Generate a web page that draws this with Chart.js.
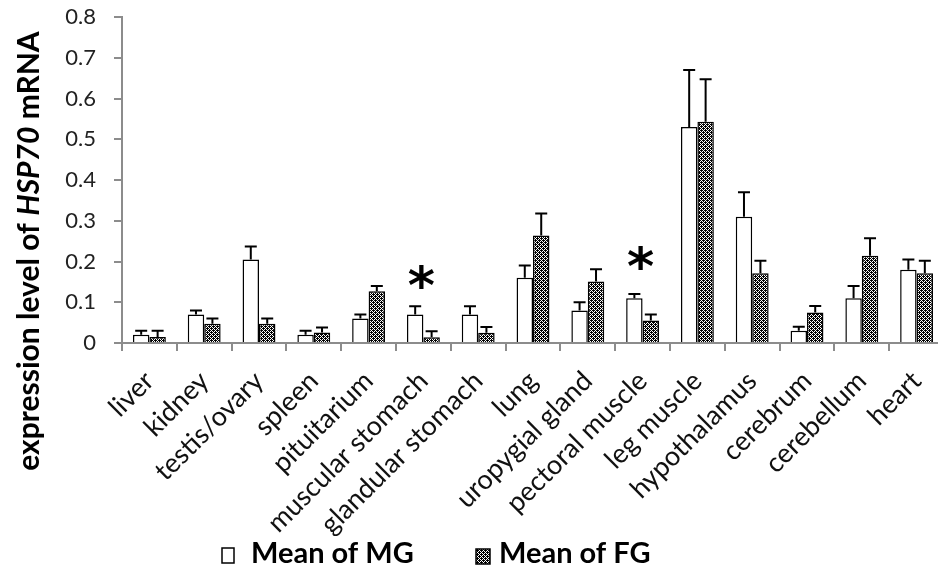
<!DOCTYPE html>
<html>
<head>
<meta charset="utf-8">
<script src="https://cdn.jsdelivr.net/npm/chart.js@4/dist/chart.umd.min.js"></script>
<style>
  html, body { margin: 0; padding: 0; background: #fff; overflow: hidden; }
  #wrap { width: 946px; height: 570px; position: relative; }
</style>
</head>
<body>
<div id="wrap"><canvas id="myChart"></canvas></div>
<script>
// tissues on the x axis
const categories = ['liver', 'kidney', 'testis/ovary', 'spleen', 'pituitarium', 'muscular stomach',
    'glandular stomach', 'lung', 'uropygial gland', 'pectoral muscle', 'leg muscle', 'hypothalamus',
    'cerebrum', 'cerebellum', 'heart'];

const seriesNames = ['Mean of MG', 'Mean of FG'];

// means and error (SD)
const mgMeans  = [0.02, 0.07, 0.205, 0.02, 0.06, 0.07, 0.07, 0.16, 0.08, 0.11, 0.53, 0.31, 0.03, 0.11, 0.18];
const mgErrors = [0.01, 0.01, 0.032, 0.01, 0.01, 0.02, 0.02, 0.03, 0.02, 0.01, 0.14, 0.06, 0.01, 0.03, 0.025];
const fgMeans  = [0.015, 0.047, 0.047, 0.026, 0.127, 0.014, 0.025, 0.264, 0.151, 0.055, 0.543, 0.171, 0.075, 0.214, 0.171];
const fgErrors = [0.015, 0.013, 0.013, 0.012, 0.013, 0.015, 0.014, 0.054, 0.03, 0.015, 0.104, 0.031, 0.016, 0.043, 0.031];

const yTickLabels = ['0', '0.1', '0.2', '0.3', '0.4', '0.5', '0.6', '0.7', '0.8'];

// significance marks
const starCategories = ['muscular stomach', 'pectoral muscle'];
const starValues = [0.162, 0.211];

function makePattern() {
    const c = document.createElement('canvas');
    c.width = 4; c.height = 4;
    const g = c.getContext('2d');
    g.fillStyle = '#000';
    g.fillRect(0, 0, 4, 4);
    g.fillStyle = '#fff';
    for (let x = 0; x < 4; x++) {
        for (let y = 0; y < 4; y++) {
            if ((x + y) % 4 === 1 || (x - y + 4) % 4 === 1) g.fillRect(x, y, 1, 1);
        }
    }
    return document.getElementById('myChart').getContext('2d').createPattern(c, 'repeat');
}
const fgPattern = makePattern();

const errorBars = {
    id: 'errorBars',
    afterDatasetsDraw(chart) {
        const ctx = chart.ctx;
        const y = chart.scales.y;
        const errs = [mgErrors, fgErrors];
        const means = [mgMeans, fgMeans];
        ctx.save();
        ctx.strokeStyle = '#000';
        ctx.lineWidth = 2;
        chart.data.datasets.forEach((ds, di) => {
            const meta = chart.getDatasetMeta(di);
            meta.data.forEach((bar, i) => {
                const top = y.getPixelForValue(means[di][i]);
                const hi = y.getPixelForValue(means[di][i] + errs[di][i]);
                ctx.beginPath();
                ctx.moveTo(bar.x, top);
                ctx.lineTo(bar.x, hi);
                ctx.moveTo(bar.x - 6, hi);
                ctx.lineTo(bar.x + 6, hi);
                ctx.stroke();
            });
        });
        // asterisks, glyph centred on the value
        ctx.fillStyle = '#000';
        ctx.font = 'bold 52px "DejaVu Sans"';
        ctx.textAlign = 'center';
        ctx.textBaseline = 'alphabetic';
        const m = ctx.measureText('*');
        const shift = (m.actualBoundingBoxAscent - m.actualBoundingBoxDescent) / 2;
        starCategories.forEach((c, k) => {
            const idx = categories.indexOf(c);
            const px = chart.scales.x.getPixelForValue(idx);
            ctx.fillText('*', px - 2, y.getPixelForValue(starValues[k]) + shift);
        });
        ctx.restore();
    },
    afterDraw(chart) {
        const ctx = chart.ctx;
        ctx.save();
        // y axis title with italic gene name
        const parts = [['expression level of ', 'bold 30px Lato'], ['HSP70', 'italic bold 30px Lato'], [' mRNA', 'bold 30px Lato']];
        let total = 0;
        parts.forEach(p => { ctx.font = p[1]; total += ctx.measureText(p[0]).width; });
        ctx.translate(29, 251);
        ctx.rotate(-Math.PI / 2);
        ctx.fillStyle = '#000';
        ctx.textBaseline = 'middle';
        ctx.textAlign = 'left';
        let x = -total / 2;
        parts.forEach(p => { ctx.font = p[1]; ctx.fillText(p[0], x, 0); x += ctx.measureText(p[0]).width; });
        ctx.restore();

        // legend
        ctx.save();
        ctx.font = 'bold 29px Lato';
        ctx.textBaseline = 'middle';
        ctx.fillStyle = '#fff';
        ctx.strokeStyle = '#000';
        ctx.lineWidth = 1.5;
        ctx.fillRect(222, 548, 12, 15);
        ctx.strokeRect(222, 548, 12, 15);
        ctx.fillStyle = fgPattern;
        ctx.fillRect(476, 549, 14, 15);
        ctx.strokeRect(476, 549, 14, 15);
        ctx.fillStyle = '#000';
        ctx.fillText(seriesNames[0], 251, 554);
        ctx.fillText(seriesNames[1], 499, 554);
        ctx.restore();
    }
};

new Chart('myChart', {
    type: 'bar',
    data: {
        labels: categories,
        datasets: [{
            label: seriesNames[0],
            data: mgMeans,
            backgroundColor: '#fff',
            borderColor: '#000',
            borderWidth: 1.5
        }, {
            label: seriesNames[1],
            data: fgMeans,
            backgroundColor: fgPattern,
            borderColor: '#000',
            borderWidth: 1.5
        }]
    },
    options: {
        responsive: true,
        maintainAspectRatio: false,
        animation: false,
        categoryPercentage: 0.6,
        barPercentage: 1.0,
        layout: { padding: { top: 17, left: 0, right: 2, bottom: 34 } },
        plugins: {
            legend: { display: false },
            tooltip: { enabled: false }
        },
        scales: {
            x: {
                afterFit(scale) {
                    scale.height = 193;
                    scale.paddingLeft = 0;
                    scale.paddingRight = 0;
                },
                grid: { offset: true, drawOnChartArea: false, color: '#8c8c8c', lineWidth: 2, tickLength: 8 },
                border: { color: '#8c8c8c', width: 2 },
                ticks: {
                    color: '#111',
                    font: { family: 'Lato', size: 27 },
                    minRotation: 45, maxRotation: 45,
                    autoSkip: false,
                    padding: 14
                }
            },
            y: {
                min: 0, max: 0.8,
                afterFit(scale) {
                    scale.width = 122;
                    scale.paddingTop = 0;
                    scale.paddingBottom = 0;
                },
                grid: { drawOnChartArea: false, color: '#8c8c8c', lineWidth: 2, tickLength: 8 },
                border: { color: '#8c8c8c', width: 2 },
                ticks: {
                    stepSize: 0.1,
                    color: '#222',
                    font: { family: 'Lato', size: 22 },
                    padding: 18,
                    callback: (v, i) => yTickLabels[i]
                }
            }
        }
    },
    plugins: [errorBars]
});
</script>
</body>
</html>
